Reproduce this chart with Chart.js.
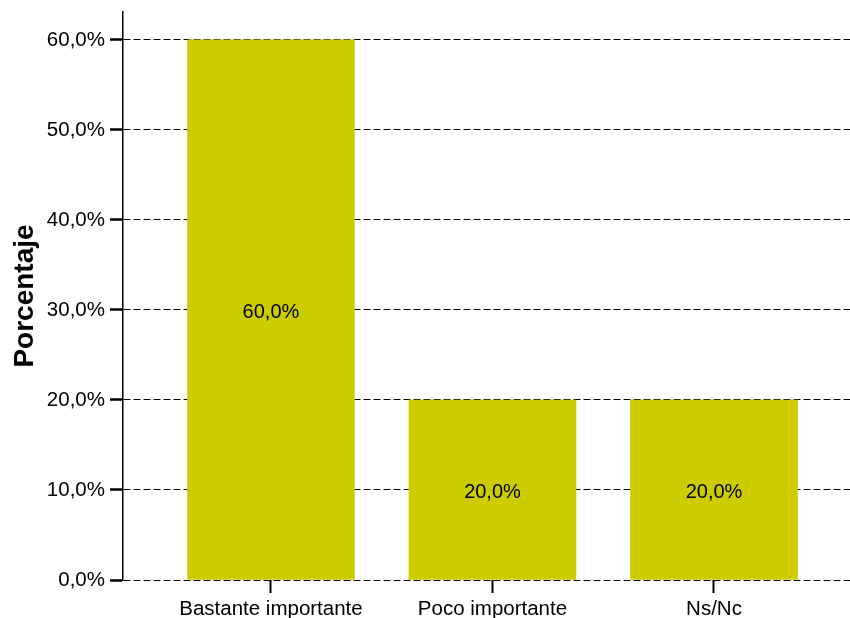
<!DOCTYPE html>
<html>
<head>
<meta charset="utf-8">
<script src="https://cdn.jsdelivr.net/npm/chart.js@4/dist/chart.umd.min.js"></script>
<style>
  html, body { margin: 0; padding: 0; background: #fff; }
  #wrap { width: 850px; height: 618px; }
</style>
</head>
<body>
<div id="wrap"><canvas id="chart" width="850" height="618"></canvas></div>
<script>
/* eslint-disable no-undef */
const categories = ['Bastante importante', 'Poco importante', 'Ns/Nc'];
const percentages = [60, 20, 20];
const yTicks = [0, 10, 20, 30, 40, 50, 60];

const FONT = '"Liberation Sans", Arial, sans-serif';

// 60.0 -> "60,0%"
function fmt(v) {
  return v.toFixed(1).replace('.', ',') + '%';
}

// Etiquetas de valor dentro de cada barra
const barLabels = {
  id: 'barLabels',
  afterDatasetsDraw(chart) {
    const ctx = chart.ctx;
    const meta = chart.getDatasetMeta(0);
    ctx.save();
    ctx.font = '20px ' + FONT;
    ctx.fillStyle = '#000';
    ctx.textAlign = 'center';
    ctx.textBaseline = 'middle';
    meta.data.forEach((bar, i) => {
      ctx.fillText(fmt(percentages[i]), bar.x, (bar.y + bar.base) / 2 + 3);
    });
    ctx.restore();
  },
};

const chartCanvas = document.getElementById('chart').getContext('2d');
const chart = new Chart(chartCanvas, {
  type: 'bar',
  data: {
    datasets: [{
      data: categories.map((c, i) => ({ x: i, y: percentages[i] })),
      backgroundColor: '#cccc00',
      borderWidth: 0,
      barThickness: 167,
    }],
  },
  options: {
    responsive: false,
    animation: false,
    devicePixelRatio: 1,
    layout: { padding: { top: 12, right: 0, left: 0, bottom: 0 } },
    plugins: {
      legend: { display: false },
      tooltip: { enabled: false },
    },
    scales: {
      x: {
        type: 'linear',
        offset: false,
        min: -0.668,
        max: 2.614,
        afterBuildTicks: (scale) => { scale.ticks = categories.map((c, i) => ({ value: i })); },
        afterFit: (scale) => {
          scale.height = 38;
          scale.paddingLeft = 0;
          scale.paddingRight = 0;
        },
        border: { display: false },
        grid: {
          offset: false,
          drawOnChartArea: false,
          drawTicks: true,
          tickLength: 13,
          tickWidth: 2,
          color: '#000',
        },
        ticks: {
          color: '#000',
          font: { family: FONT, size: 20.5 },
          padding: 4,
          maxRotation: 0,
          autoSkip: false,
          callback: (v) => categories[v],
        },
      },
      y: {
        min: 0,
        max: 63.1,
        afterBuildTicks: (scale) => { scale.ticks = yTicks.map((v) => ({ value: v })); },
        afterFit: (scale) => {
          scale.width = 123;
          scale.paddingTop = 0;
          scale.paddingBottom = 0;
        },
        border: { display: true, color: '#000', width: 1.5, dash: [7, 3] },
        grid: {
          color: '#000',
          lineWidth: 1,
          tickLength: 13,
          tickWidth: 2.5,
          tickBorderDash: [],
        },
        ticks: {
          color: '#000',
          font: { family: FONT, size: 20.5 },
          padding: 5,
          callback: (v) => fmt(v),
        },
        title: {
          display: true,
          text: 'Porcentaje',
          color: '#000',
          font: { family: FONT, size: 28, weight: 'bold' },
          padding: { top: 8, bottom: 0 },
        },
      },
    },
  },
  plugins: [barLabels],
});
chart.update();
</script>
</body>
</html>
